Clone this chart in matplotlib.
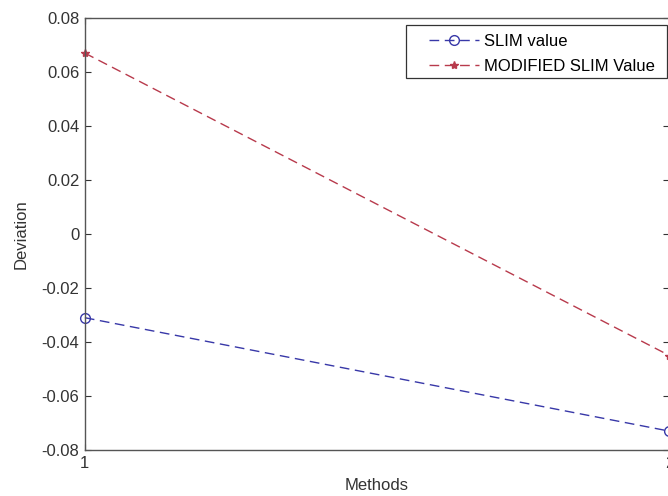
import matplotlib
matplotlib.use("Agg")
import matplotlib.pyplot as plt
from matplotlib.patches import Rectangle

methods = [1, 2]
slim_value = [-0.031, -0.073]
modified_slim_value = [0.067, -0.045]
yticks = [-0.08, -0.06, -0.04, -0.02, 0, 0.02, 0.04, 0.06, 0.08]
ytick_labels = ["-0.08", "-0.06", "-0.04", "-0.02", "0", "0.02", "0.04", "0.06", "0.08"]

plt.rcParams['font.family'] = ['Liberation Sans', 'DejaVu Sans']

fig = plt.figure(figsize=(6.68, 4.96), dpi=100)
ax = fig.add_axes([0.127, 0.0927, 0.875, 0.871])

ax.plot(methods, slim_value, linestyle=(0, (7, 4)), color='#3838a8', lw=1.0,
        marker='o', markersize=7, markerfacecolor='none', markeredgecolor='#3838a8',
        markeredgewidth=1.0, label='SLIM value', clip_on=False)
ax.plot(methods, modified_slim_value, linestyle=(0, (7, 4)), color='#b83a4c', lw=1.0,
        marker='*', markersize=6, markerfacecolor='#b83a4c', markeredgecolor='#b83a4c',
        label='MODIFIED SLIM Value', clip_on=False)

ax.set_xlim(1, 2)
ax.set_ylim(-0.08, 0.08)
ax.set_xticks([1, 2])
ax.set_xticklabels(['1', '2'])
ax.set_yticks(yticks)
ax.set_yticklabels(ytick_labels)
ax.tick_params(direction='in', length=4, width=0.8, colors='#333333', labelsize=12,
               right=True, top=True, labelcolor='#333333')
ax.tick_params(axis='x', pad=4)
ax.tick_params(axis='y', pad=4)
for s in ax.spines.values():
    s.set_color('#555555')
    s.set_linewidth(1.0)

ax.set_xlabel('Methods', fontsize=12, color='#333333', labelpad=5)
ax.set_ylabel('Deviation', fontsize=12, color='#333333', labelpad=9)

# legend frame (MATLAB-style box with wide left padding)
ax.add_patch(Rectangle((0.5495, 0.861), 0.4465, 0.123, transform=ax.transAxes,
                       facecolor='white', edgecolor='#333333', linewidth=0.9,
                       zorder=4.5, clip_on=False))
leg = ax.legend(loc='upper right', bbox_to_anchor=(0.987, 0.979), fontsize=12,
                frameon=False, handlelength=3.0, handletextpad=0.3, borderpad=0.4,
                labelspacing=0.63, borderaxespad=0)
leg.set_zorder(5)

fig.savefig('out.png', dpi=100)
